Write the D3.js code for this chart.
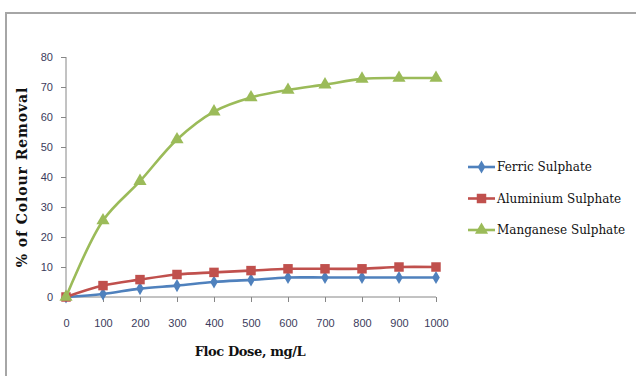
<!DOCTYPE html>
<html><head><meta charset="utf-8">
<script src="https://cdn.jsdelivr.net/npm/d3@7"></script>
<style>body{margin:0;background:#fff}svg{display:block}</style>
</head><body>
<svg id="c" width="636" height="376"></svg>
<script>
const doses = [0,100,200,300,400,500,600,700,800,900,1000];
const ferric = [0,1,2.8,3.8,5,5.7,6.5,6.5,6.5,6.5,6.5];
const aluminium = [0,3.8,5.8,7.5,8.2,8.8,9.4,9.4,9.4,10,10];
const manganese = [0,25.5,38.6,52.5,61.8,66.5,69,70.8,72.7,73,73];
const yTicks = [0,10,20,30,40,50,60,70,80];
const seriesNames = ["Ferric Sulphate","Aluminium Sulphate","Manganese Sulphate"];

const series = [
  {name:seriesNames[0], values:ferric, color:"#4F81BD", marker:"diamond"},
  {name:seriesNames[1], values:aluminium, color:"#C0504D", marker:"square"},
  {name:seriesNames[2], values:manganese, color:"#9BBB59", marker:"triangle"}
];

const svg = d3.select("#c");
// outer frame
svg.append("path").attr("d","M6,376 V13 H636").attr("fill","none").attr("stroke","#a6a6a6").attr("stroke-width",2);

const x = d3.scaleLinear().domain([0,1000]).range([66,436]);
const y = d3.scaleLinear().domain([0,80]).range([297,57]);

const labFont = "'Liberation Sans', Arial, sans-serif";
const yAx = svg.append("g").attr("transform",`translate(${x(0)},0)`)
  .call(d3.axisLeft(y).tickValues(yTicks).tickSize(5).tickPadding(8).tickFormat(d3.format("d")));
const xAx = svg.append("g").attr("transform",`translate(0,${y(0)})`)
  .call(d3.axisBottom(x).tickValues(doses).tickSize(5).tickPadding(17).tickFormat(d3.format("d")));
[yAx,xAx].forEach(g=>{
  g.selectAll("path,line").attr("stroke","#868686").attr("stroke-width",1);
  g.select(".domain").attr("d", g===yAx ? `M0,${y(80)}V${y(0)}` : `M${x(0)},0H${x(1000)}`);
  g.selectAll("text").attr("fill","#3b3b5c").style("font-family",labFont).style("font-size","11px");
});

const line = d3.line().x((d,i)=>x(doses[i])).y(d=>y(d)).curve(d3.curveCatmullRom.alpha(0.5));

function markerPath(type){
  if(type==="diamond") return d3.symbol().type(d3.symbolDiamond).size(50)();
  if(type==="square") return d3.symbol().type(d3.symbolSquare).size(90)();
  return d3.symbol().type(d3.symbolTriangle).size(75)();
}

series.forEach(s=>{
  svg.append("path").datum(s.values).attr("d",line).attr("fill","none")
    .attr("stroke",s.color).attr("stroke-width",2.6);
  svg.append("g").selectAll("path").data(s.values).join("path")
    .attr("transform",(d,i)=>`translate(${x(doses[i])},${y(d)})`)
    .attr("d",markerPath(s.marker)).attr("fill",s.color);
});

// axis titles
const serif = "'DejaVu Serif', 'Liberation Serif', serif";
svg.append("text").attr("transform","translate(27,177) rotate(-90)")
  .attr("text-anchor","middle").style("font-family",serif).style("font-weight","bold")
  .style("font-size","14px").attr("letter-spacing","0.9").attr("fill","#111").text("% of Colour Removal");
svg.append("text").attr("x",250).attr("y",356).attr("text-anchor","middle")
  .style("font-family",serif).style("font-weight","bold").style("font-size","13px")
  .attr("letter-spacing","-0.4").attr("fill","#111").text("Floc Dose, mg/L");

// legend
const leg = svg.append("g");
series.forEach((s,i)=>{
  const ly = 167 + i*31.5;
  leg.append("line").attr("x1",468).attr("x2",495).attr("y1",ly).attr("y2",ly)
    .attr("stroke",s.color).attr("stroke-width",2.6);
  leg.append("path").attr("transform",`translate(481.5,${ly})`).attr("d",markerPath(s.marker)).attr("fill",s.color);
  leg.append("text").attr("x",497).attr("y",ly+4).style("font-family",serif)
    .style("font-size","12px").attr("fill","#111").text(s.name);
});
</script>
</body></html>
